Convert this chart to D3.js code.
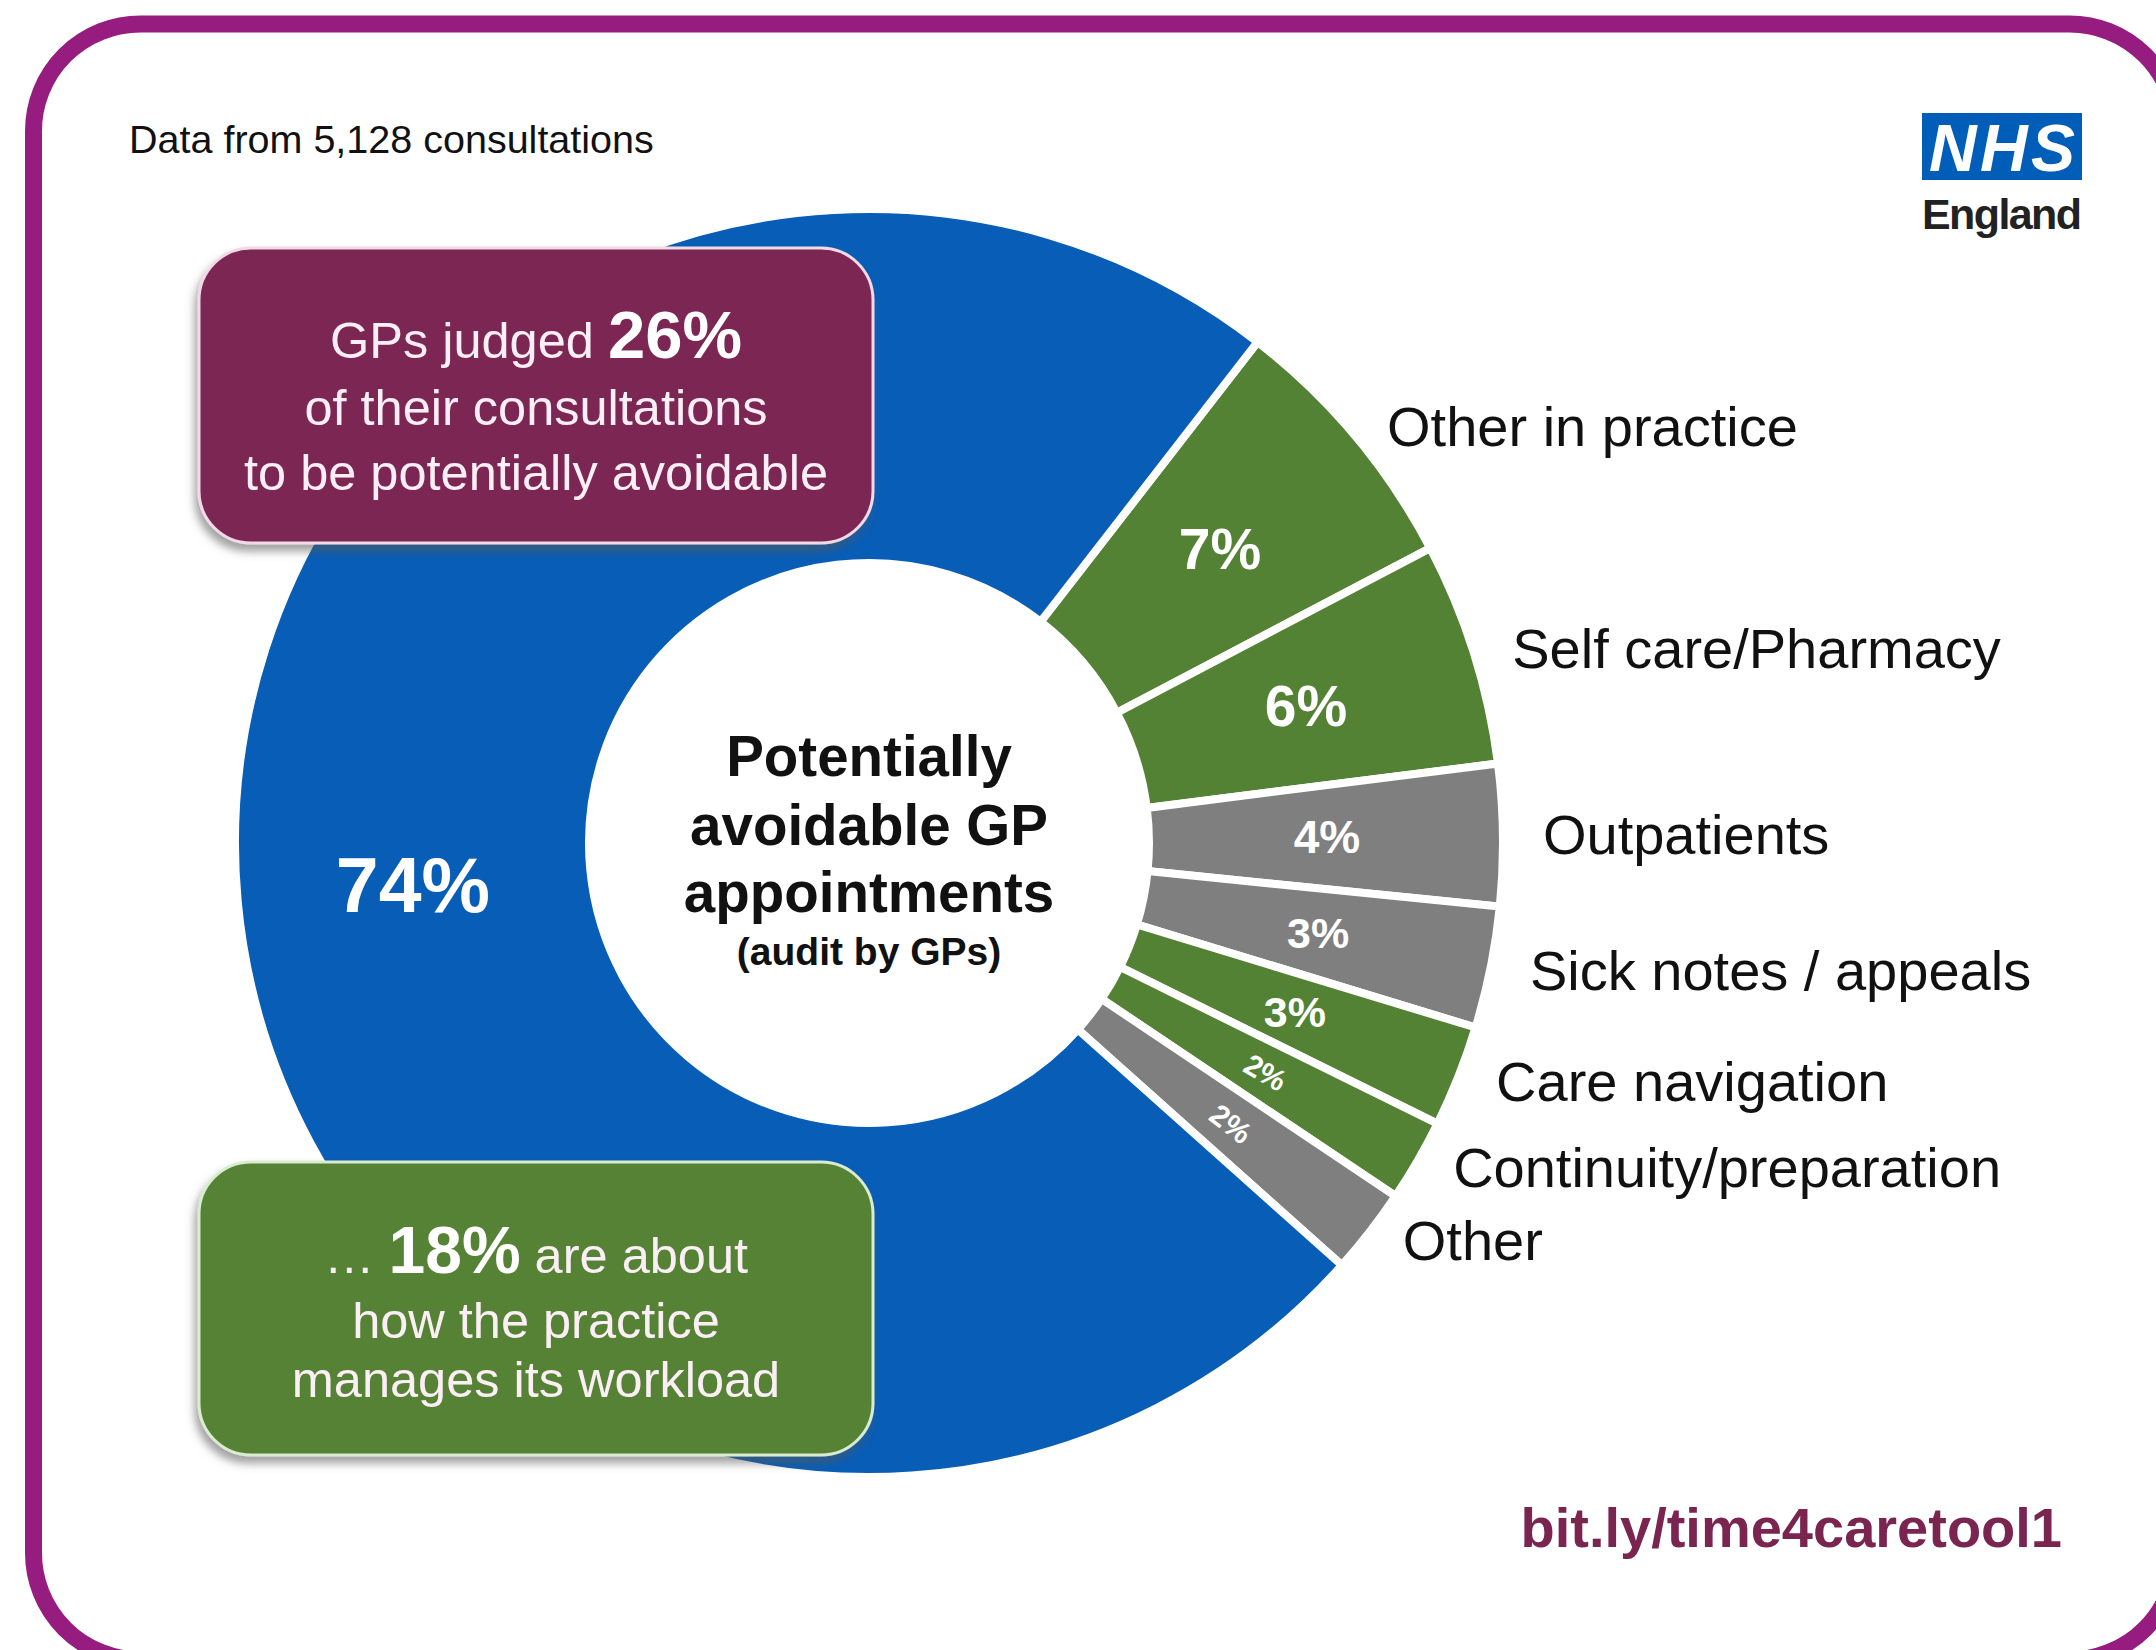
<!DOCTYPE html>
<html lang="en">
    <head>
        <meta charset="utf-8">
        <title>Potentially avoidable GP appointments</title>
        <script src="https://d3js.org/d3.v7.min.js"></script>
        <style type="text/css">
          body {
            margin: 0;
            background: #ffffff;
          }
          svg {
            width: 2156px;
            height: 1650px;
            display: block;
            font-family: "Liberation Sans", Arial, sans-serif;
          }
          .catLabel {
            font-size: 56px;
            fill: #111111;
          }
          .centre {
            font-weight: bold;
            fill: #111111;
          }
          .boxText {
            font-size: 50.5px;
            fill: #fbeff5;
          }
        </style>
    </head>
    <body>
        <svg></svg>

        <script type="text/javascript">

        // Data (slices go clockwise from the top-right)
        const categories = ["Other in practice", "Self care/Pharmacy", "Outpatients", "Sick notes / appeals",
                            "Care navigation", "Continuity/preparation", "Other", "Not avoidable"];
        const values = [6.8, 5.7, 3.6, 3.1, 2.6, 2.1, 2.2, 73.9];
        const valueLabels = ["7%", "6%", "4%", "3%", "3%", "2%", "2%", "74%"];
        const groups = ["practice", "practice", "elsewhere", "elsewhere", "practice", "practice", "elsewhere", "unavoidable"];

        const colour = d3.scaleOrdinal()
                         .domain(["practice", "elsewhere", "unavoidable"])
                         .range(["#548235", "#7f7f7f", "#085db6"]);

        // label size depends on how big the slice is
        const labelSize = d3.scaleThreshold()
                            .domain([2.5, 3.5, 5, 20])
                            .range([30, 43, 46, 57, 77]);

        const cx = 869, cy = 843;
        const rInner = 280, rOuter = 634;
        const startDeg = 37.8;

        const svg = d3.select("svg");

        const defs = svg.append("defs");
        const shadow = defs.append("filter")
                           .attr("id", "shadow")
                           .attr("x", "-10%").attr("y", "-10%")
                           .attr("width", "120%").attr("height", "130%");
        shadow.append("feDropShadow")
              .attr("dx", -3).attr("dy", 7)
              .attr("stdDeviation", 4)
              .attr("flood-color", "#555555")
              .attr("flood-opacity", 0.55);

        // purple frame, runs off the right and bottom edges
        svg.append("rect")
           .attr("x", 33.5).attr("y", 24)
           .attr("width", 2143).attr("height", 1636)
           .attr("rx", 107).attr("ry", 107)
           .attr("fill", "none")
           .attr("stroke", "#961c80")
           .attr("stroke-width", 17);

        svg.append("text")
           .attr("x", 129).attr("y", 139)
           .attr("dominant-baseline", "central")
           .attr("font-size", 39.5)
           .attr("fill", "#111111")
           .text("Data from 5,128 consultations");

        // NHS England logo
        const logo = svg.append("g");
        logo.append("rect")
            .attr("x", 1922).attr("y", 113)
            .attr("width", 160).attr("height", 67)
            .attr("fill", "#005eb8");
        logo.append("text")
            .attr("x", 2002).attr("y", 148)
            .attr("text-anchor", "middle")
            .attr("dominant-baseline", "central")
            .attr("font-size", 66)
            .attr("font-weight", 900)
            .attr("font-style", "italic")
            .attr("fill", "#ffffff")
            .attr("textLength", 146)
            .text("NHS");
        logo.append("text")
            .attr("x", 1922).attr("y", 229)
            .attr("font-size", 43)
            .attr("font-weight", "bold")
            .attr("fill", "#222222")
            .attr("textLength", 160)
            .text("England");

        // donut
        const pie = d3.pie()
                      .sort(null)
                      .value(d => d.value)
                      .startAngle(startDeg * Math.PI / 180)
                      .endAngle(startDeg * Math.PI / 180 + 2 * Math.PI);

        const data = categories.map((c, i) => ({
            name: c, value: values[i], label: valueLabels[i], group: groups[i]
        }));
        const arcs = pie(data);

        const arc = d3.arc().innerRadius(rInner).outerRadius(rOuter);
        const pctArc = d3.arc().innerRadius(458).outerRadius(458);
        const nameArc = d3.arc().innerRadius(668).outerRadius(668);

        const chart = svg.append("g")
                         .attr("transform", "translate(" + [cx, cy] + ")");

        chart.selectAll("path")
             .data(arcs)
             .enter()
             .append("path")
             .attr("d", arc)
             .attr("fill", d => colour(d.data.group))
             .attr("stroke", "#ffffff")
             .attr("stroke-width", 8)
             .attr("stroke-linejoin", "miter");

        // percentage labels inside the slices
        chart.selectAll("text.pct")
             .data(arcs)
             .enter()
             .append("text")
             .attr("class", "pct")
             .attr("transform", d => {
                 const p = pctArc.centroid(d);
                 const mid = (d.startAngle + d.endAngle) / 2 * 180 / Math.PI;
                 const rot = d.data.value < 2.5 ? mid - 90 : 0;
                 return "translate(" + p + ") rotate(" + rot + ")";
             })
             .attr("text-anchor", "middle")
             .attr("dominant-baseline", "central")
             .attr("font-weight", "bold")
             .attr("font-size", d => labelSize(d.data.value))
             .attr("fill", "#ffffff")
             .text(d => d.data.label);

        // category names outside the slices (not for the big blue one)
        chart.selectAll("text.catLabel")
             .data(arcs.filter(d => d.data.group !== "unavoidable"))
             .enter()
             .append("text")
             .attr("class", "catLabel")
             .attr("x", d => nameArc.centroid(d)[0] + 6)
             .attr("y", d => nameArc.centroid(d)[1] * 0.97)
             .attr("dominant-baseline", "central")
             .text(d => d.data.name);

        // title in the hole
        const centreLines = [
            {t: "Potentially", size: 56.5, dy: -87},
            {t: "avoidable GP", size: 56.5, dy: -18},
            {t: "appointments", size: 56.5, dy: 49},
            {t: "(audit by GPs)", size: 39, dy: 108}
        ];
        chart.selectAll("text.centre")
             .data(centreLines)
             .enter()
             .append("text")
             .attr("class", "centre")
             .attr("y", d => d.dy)
             .attr("text-anchor", "middle")
             .attr("dominant-baseline", "central")
             .attr("font-size", d => d.size)
             .text(d => d.t);

        // call-out boxes
        function box(x, y, w, h, fill, edge) {
            svg.append("rect")
               .attr("x", x).attr("y", y)
               .attr("width", w).attr("height", h)
               .attr("rx", 52).attr("ry", 52)
               .attr("fill", fill)
               .attr("stroke", edge)
               .attr("stroke-width", 3)
               .attr("filter", "url(#shadow)");
        }

        box(199, 248, 674, 295, "#7b2753", "#f2d9e6");
        box(199, 1162, 674, 293, "#548235", "#d9ecd0");

        const purpleText = svg.append("text")
                              .attr("class", "boxText")
                              .attr("text-anchor", "middle");
        const l1 = purpleText.append("tspan").attr("x", 536).attr("y", 358);
        l1.append("tspan").text("GPs judged ");
        l1.append("tspan").attr("font-weight", "bold").attr("font-size", 67).attr("fill", "#ffffff").text("26%");
        purpleText.append("tspan").attr("x", 536).attr("y", 425).text("of their consultations");
        purpleText.append("tspan").attr("x", 536).attr("y", 490).text("to be potentially avoidable");

        const greenText = svg.append("text")
                             .attr("class", "boxText")
                             .attr("text-anchor", "middle");
        const g1 = greenText.append("tspan").attr("x", 536).attr("y", 1273);
        g1.append("tspan").text("\u2026 ");
        g1.append("tspan").attr("font-weight", "bold").attr("font-size", 66).attr("fill", "#ffffff").text("18%");
        g1.append("tspan").text(" are about");
        greenText.append("tspan").attr("x", 536).attr("y", 1338).text("how the practice");
        greenText.append("tspan").attr("x", 536).attr("y", 1397).text("manages its workload");

        svg.append("text")
           .attr("x", 2062).attr("y", 1527)
           .attr("text-anchor", "end")
           .attr("dominant-baseline", "central")
           .attr("font-size", 56)
           .attr("font-weight", "bold")
           .attr("fill", "#7a2450")
           .text("bit.ly/time4caretool1");

        </script>
    </body>
</html>
